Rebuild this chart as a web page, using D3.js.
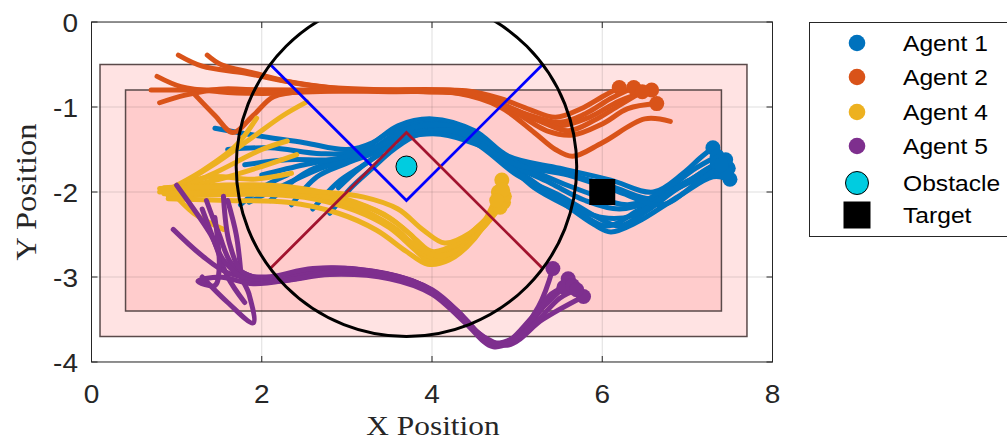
<!DOCTYPE html>
<html>
<head>
<meta charset="utf-8">
<script src="https://cdn.jsdelivr.net/npm/d3@7"></script>
<style>
  body { margin: 0; background: #fff; }
  svg { display: block; }
</style>
</head>
<body>
<svg width="1007" height="443"></svg>
<script>
// axis ticks
var xTicks = [0, 2, 4, 6, 8];
var yTicks = [0, -1, -2, -3, -4];

// regions [x0, x1, y0, y1]
var outerRegion = [0.1, 7.7, -3.7, -0.5];
var innerRegion = [0.4, 7.4, -3.4, -0.8];

// obstacle, its influence circle and the guide lines
var obstacle = [3.7, -1.7];
var influenceRadius = 2;
var target = [6, -2];
var blueVee = [[2.1, -0.5], [3.7, -2.1], [5.3, -0.5]];
var redVee = [[2.1, -2.9], [3.7, -1.3], [5.3, -2.9]];

// trajectories, several runs per agent (these end with a dot)
var agent1Paths = [
  [[1.45,-1.25],[1.9,-1.33],[2.5,-1.42],[3.0,-1.5],[3.3,-1.42],[3.6,-1.22],[4.0,-1.14],[4.5,-1.28],[4.9,-1.58],[5.5,-1.72],[6.1,-1.86],[6.6,-2.0],[6.95,-1.78],[7.15,-1.6],[7.3,-1.48]],
  [[1.6,-1.5],[2.1,-1.48],[2.7,-1.55],[3.15,-1.52],[3.5,-1.3],[3.95,-1.18],[4.5,-1.32],[4.9,-1.62],[5.5,-1.76],[6.1,-1.93],[6.6,-2.08],[7.0,-1.88],[7.3,-1.7],[7.48,-1.72]],
  [[2.1,-2.1],[2.5,-1.78],[2.9,-1.62],[3.3,-1.5],[3.6,-1.3],[4.0,-1.22],[4.5,-1.38],[5.0,-1.74],[5.5,-2.1],[5.9,-2.38],[6.1,-2.47],[6.4,-2.36],[6.9,-2.05],[7.3,-1.82],[7.5,-1.85]],
  [[2.35,-2.15],[2.65,-1.82],[3.0,-1.66],[3.35,-1.52],[3.62,-1.33],[4.0,-1.26],[4.5,-1.42],[5.0,-1.8],[5.5,-2.04],[6.0,-2.33],[6.2,-2.4],[6.5,-2.24],[6.9,-1.95],[7.3,-1.72],[7.45,-1.62]],
  [[2.6,-2.2],[2.9,-1.88],[3.2,-1.68],[3.5,-1.46],[3.8,-1.3],[4.3,-1.31],[4.7,-1.5],[5.2,-1.95],[5.7,-2.22],[6.05,-2.4],[6.45,-2.2],[7.0,-1.9],[7.4,-1.75]],
  [[1.8,-1.68],[2.3,-1.62],[2.8,-1.62],[3.2,-1.56],[3.5,-1.36],[3.9,-1.2],[4.4,-1.28],[4.8,-1.55],[5.3,-1.8],[5.8,-2.0],[6.3,-2.15],[6.7,-2.0],[7.1,-1.72],[7.35,-1.58]],
  [[1.85,-2.12],[2.3,-1.9],[2.7,-1.72],[3.1,-1.6],[3.45,-1.42],[3.75,-1.25],[4.2,-1.22],[4.6,-1.4],[5.0,-1.7],[5.4,-1.9],[5.8,-2.1],[6.2,-2.2],[6.6,-2.1],[7.05,-1.85],[7.45,-1.78]],
  [[2.8,-2.25],[3.05,-1.95],[3.3,-1.72],[3.55,-1.5],[3.85,-1.32],[4.25,-1.28],[4.65,-1.48],[5.1,-1.85],[5.6,-2.15],[6.0,-2.3],[6.35,-2.28],[6.8,-2.0],[7.2,-1.75],[7.35,-1.65]],
  [[2.0,-1.8],[2.5,-1.68],[3.0,-1.58],[3.4,-1.45],[3.7,-1.35],[4.1,-1.32],[4.55,-1.45],[5.0,-1.68],[5.6,-1.8],[6.2,-2.0],[6.7,-2.15],[7.1,-1.9],[7.4,-1.68]]
];
var agent2Paths = [
  [[0.7,-0.8],[1.2,-0.8],[1.8,-0.8],[2.5,-0.8],[3.2,-0.8],[3.9,-0.8],[4.4,-0.81],[4.8,-0.9],[5.15,-1.03],[5.45,-1.12],[5.75,-1.02],[6.0,-0.88],[6.2,-0.77]],
  [[1.02,-0.39],[1.3,-0.52],[1.8,-0.6],[2.3,-0.7],[2.8,-0.77],[3.5,-0.8],[4.2,-0.82],[4.7,-0.92],[5.1,-1.08],[5.5,-1.18],[5.8,-1.08],[6.1,-0.9],[6.37,-0.77]],
  [[1.36,-0.39],[1.52,-0.5],[1.9,-0.6],[2.4,-0.72],[3.0,-0.79],[3.6,-0.81],[4.3,-0.83],[4.8,-0.97],[5.2,-1.14],[5.5,-1.22],[5.85,-1.12],[6.2,-0.93],[6.58,-0.8]],
  [[0.77,-0.64],[1.05,-0.76],[1.5,-0.82],[2.0,-0.84],[2.6,-0.82],[3.2,-0.81],[3.9,-0.82],[4.5,-0.86],[5.0,-1.08],[5.35,-1.28],[5.65,-1.33],[6.0,-1.2],[6.3,-1.02],[6.64,-0.96]],
  [[1.2,-0.84],[1.45,-1.1],[1.66,-1.3],[1.9,-1.1],[2.14,-0.88],[2.6,-0.81],[3.4,-0.8],[4.4,-0.82],[4.9,-1.0],[5.3,-1.18],[5.6,-1.28],[5.9,-1.16],[6.2,-0.98],[6.47,-0.82]]
];
var agent4Paths = [
  [[0.8,-2.0],[1.4,-1.97],[2.0,-1.97],[2.5,-2.0],[3.0,-2.1],[3.4,-2.25],[3.75,-2.5],[3.95,-2.72],[4.2,-2.68],[4.5,-2.45],[4.72,-2.2],[4.82,-1.86]],
  [[0.85,-1.95],[1.5,-1.92],[2.1,-1.92],[2.6,-1.98],[3.1,-2.12],[3.5,-2.3],[3.8,-2.55],[4.0,-2.7],[4.3,-2.6],[4.6,-2.35],[4.84,-2.12]],
  [[0.9,-2.05],[1.5,-2.03],[2.1,-2.03],[2.6,-2.08],[3.1,-2.22],[3.5,-2.42],[3.8,-2.68],[3.95,-2.8],[4.25,-2.72],[4.55,-2.45],[4.78,-2.0]],
  [[0.95,-2.0],[1.6,-2.0],[2.2,-2.0],[2.7,-2.05],[3.2,-2.22],[3.6,-2.45],[3.85,-2.7],[4.1,-2.78],[4.4,-2.6],[4.7,-2.3],[4.85,-2.05]],
  [[0.8,-1.96],[1.4,-1.94],[2.0,-1.94],[2.55,-2.0],[3.05,-2.15],[3.45,-2.36],[3.8,-2.62],[4.05,-2.75],[4.35,-2.66],[4.62,-2.4],[4.8,-2.18]],
  [[0.85,-2.02],[1.5,-2.0],[2.1,-1.98],[2.7,-2.0],[3.2,-2.06],[3.6,-2.2],[3.9,-2.45],[4.15,-2.6],[4.45,-2.48],[4.7,-2.25],[4.83,-1.98]],
  [[0.9,-2.08],[1.6,-2.1],[2.3,-2.12],[2.9,-2.25],[3.35,-2.45],[3.7,-2.7],[3.95,-2.85],[4.2,-2.8],[4.5,-2.55],[4.76,-2.1]]
];
var agent5Paths = [
  [[0.96,-2.44],[1.3,-2.75],[1.6,-2.95],[2.1,-3.03],[2.7,-2.9],[3.4,-2.95],[3.9,-3.1],[4.3,-3.4],[4.65,-3.76],[4.95,-3.72],[5.25,-3.35],[5.42,-2.9]],
  [[1.35,-2.1],[1.5,-2.5],[1.65,-2.85],[1.9,-3.0],[2.3,-3.0],[2.8,-2.93],[3.5,-2.98],[4.0,-3.15],[4.4,-3.5],[4.7,-3.8],[5.0,-3.7],[5.35,-3.3],[5.6,-3.02]],
  [[1.3,-3.0],[1.6,-3.3],[1.9,-3.54],[1.85,-3.2],[1.75,-2.95],[2.05,-3.06],[2.5,-2.97],[3.1,-2.95],[3.7,-3.05],[4.2,-3.32],[4.6,-3.7],[4.9,-3.8],[5.3,-3.5],[5.78,-3.23]],
  [[1.55,-2.05],[1.62,-2.6],[1.78,-2.95],[2.05,-3.0],[2.6,-2.9],[3.3,-2.93],[3.85,-3.08],[4.25,-3.36],[4.6,-3.72],[4.85,-3.78],[5.2,-3.45],[5.55,-3.12]],
  [[1.0,-1.92],[1.2,-2.2],[1.4,-2.5],[1.55,-2.8],[1.8,-3.02],[2.2,-3.05],[2.8,-2.97],[3.5,-3.02],[4.0,-3.2],[4.4,-3.55],[4.72,-3.82],[5.05,-3.68],[5.4,-3.2],[5.65,-3.1]],
  [[1.45,-2.3],[1.5,-2.9],[1.45,-3.1],[1.25,-3.05],[1.5,-3.0],[1.9,-3.08],[2.4,-3.02],[3.0,-2.92],[3.6,-3.0],[4.1,-3.25],[4.5,-3.62],[4.8,-3.8],[5.15,-3.6],[5.5,-3.25],[5.7,-3.15]]
];

// partial strokes without an end dot
var agent1Stubs = [
  [[1.75,-2.15],[2.0,-1.95],[2.3,-1.8]],
  [[2.9,-1.95],[3.15,-1.72],[3.4,-1.55]]
];
var agent2Stubs = [
  [[0.8,-0.95],[1.1,-0.86],[1.5,-0.79],[2.0,-0.8],[2.7,-0.81],[3.5,-0.82],[4.3,-0.84],[4.8,-1.0],[5.2,-1.3],[5.45,-1.5],[5.65,-1.58],[6.0,-1.42],[6.5,-1.14],[6.8,-1.17]]
];
var agent4Stubs = [
  [[0.9,-2.0],[1.4,-1.7],[1.9,-1.35],[2.25,-1.1],[2.53,-0.94]],
  [[0.85,-2.0],[1.3,-1.75],[1.7,-1.45],[1.94,-1.13]],
  [[0.9,-1.98],[1.5,-1.85],[2.0,-1.7],[2.41,-1.56]],
  [[0.92,-1.97],[1.2,-2.25],[1.55,-2.44]],
  [[0.95,-1.95],[1.4,-1.82],[1.9,-1.85],[2.35,-1.78]],
  [[0.95,-2.0],[1.5,-1.75],[2.0,-1.5],[2.3,-1.4]]
];
var agent5Stubs = [
  [[1.6,-2.1],[1.7,-2.5],[1.75,-2.9]],
  [[1.3,-2.2],[1.45,-2.6],[1.6,-3.0],[1.8,-3.3]]
];

var agentNames = ["Agent 1", "Agent 2", "Agent 4", "Agent 5"];
var agentColors = ["#0072BD", "#D95319", "#EDB120", "#7E2F8E"];
var agentPaths = [agent1Paths, agent2Paths, agent4Paths, agent5Paths];
var agentStubs = [agent1Stubs, agent2Stubs, agent4Stubs, agent5Stubs];

var svg = d3.select("svg");
var plot = {left: 91.5, right: 772.5, top: 22, bottom: 362};

var x = d3.scaleLinear().domain([0, 8]).range([plot.left, plot.right]);
var y = d3.scaleLinear().domain([-4, 0]).range([plot.bottom, plot.top]);

// text looks a bit stretched sideways in the original
function label(g, px, py, str, anchor, size, family, color) {
  return g.append("text")
    .attr("transform", "translate(" + px + "," + py + ") scale(1.12,1)")
    .attr("text-anchor", anchor)
    .style("font-family", family)
    .style("font-size", size + "px")
    .attr("fill", color || "#262626")
    .text(str);
}

svg.append("clipPath").attr("id", "clip")
  .append("rect")
  .attr("x", plot.left).attr("y", plot.top)
  .attr("width", plot.right - plot.left).attr("height", plot.bottom - plot.top);

var g = svg.append("g").attr("clip-path", "url(#clip)");

// pink regions
[[outerRegion, "#FFE3E3"], [innerRegion, "#FFCCCC"]].forEach(function(r) {
  var b = r[0];
  g.append("rect")
    .attr("x", x(b[0])).attr("y", y(b[3]))
    .attr("width", x(b[1]) - x(b[0])).attr("height", y(b[2]) - y(b[3]))
    .attr("fill", r[1])
    .attr("stroke", "#5a4a4a").attr("stroke-width", 1.5);
});

// grid
g.selectAll(".gx").data(xTicks).enter().append("line")
  .attr("x1", d => x(d)).attr("x2", d => x(d))
  .attr("y1", plot.top).attr("y2", plot.bottom)
  .attr("stroke", "#262626").attr("stroke-opacity", 0.15);
g.selectAll(".gy").data(yTicks).enter().append("line")
  .attr("y1", d => y(d)).attr("y2", d => y(d))
  .attr("x1", plot.left).attr("x2", plot.right)
  .attr("stroke", "#262626").attr("stroke-opacity", 0.15);

var line = d3.line().x(d => x(d[0])).y(d => y(d[1])).curve(d3.curveCatmullRom);

function drawPaths(paths, color, cls) {
  g.selectAll("." + cls).data(paths).enter().append("path")
    .attr("class", cls)
    .attr("d", line)
    .attr("fill", "none")
    .attr("stroke", color)
    .attr("stroke-width", 5)
    .attr("stroke-linecap", "round")
    .attr("stroke-linejoin", "round");
}

agentPaths.forEach(function(paths, i) {
  drawPaths(agentStubs[i], agentColors[i], "s" + i);
  drawPaths(paths, agentColors[i], "a" + i);
  g.selectAll(".e" + i).data(paths).enter().append("circle")
    .attr("class", "e" + i)
    .attr("cx", d => x(d[d.length - 1][0]))
    .attr("cy", d => y(d[d.length - 1][1]))
    .attr("r", 7.5)
    .attr("fill", agentColors[i]);
});

var straight = d3.line().x(d => x(d[0])).y(d => y(d[1]));
g.append("path").attr("d", straight(blueVee))
  .attr("fill", "none").attr("stroke", "#0000FF").attr("stroke-width", 2.8);
g.append("path").attr("d", straight(redVee))
  .attr("fill", "none").attr("stroke", "#A2142F").attr("stroke-width", 2.8);

g.append("ellipse")
  .attr("cx", x(obstacle[0])).attr("cy", y(obstacle[1]))
  .attr("rx", x(obstacle[0] + influenceRadius) - x(obstacle[0]))
  .attr("ry", y(obstacle[1] - influenceRadius) - y(obstacle[1]))
  .attr("fill", "none").attr("stroke", "#000").attr("stroke-width", 3);

g.append("circle")
  .attr("cx", x(obstacle[0])).attr("cy", y(obstacle[1])).attr("r", 10.5)
  .attr("fill", "#00CCE0").attr("stroke", "#000").attr("stroke-width", 1);

g.append("rect")
  .attr("x", x(target[0]) - 13).attr("y", y(target[1]) - 13)
  .attr("width", 26).attr("height", 26).attr("fill", "#000");

// axes box and ticks
var axisColor = "#262626";
svg.append("rect")
  .attr("x", plot.left).attr("y", plot.top)
  .attr("width", plot.right - plot.left).attr("height", plot.bottom - plot.top)
  .attr("fill", "none").attr("stroke", axisColor).attr("stroke-width", 1);

var tickLen = 6;
xTicks.forEach(function(t) {
  svg.append("line").attr("x1", x(t)).attr("x2", x(t))
    .attr("y1", plot.bottom).attr("y2", plot.bottom - tickLen).attr("stroke", axisColor);
  svg.append("line").attr("x1", x(t)).attr("x2", x(t))
    .attr("y1", plot.top).attr("y2", plot.top + tickLen).attr("stroke", axisColor);
  label(svg, x(t), 403, t, "middle", 25, "Liberation Sans, Arial, sans-serif");
});
yTicks.forEach(function(t) {
  svg.append("line").attr("y1", y(t)).attr("y2", y(t))
    .attr("x1", plot.left).attr("x2", plot.left + tickLen).attr("stroke", axisColor);
  svg.append("line").attr("y1", y(t)).attr("y2", y(t))
    .attr("x1", plot.right).attr("x2", plot.right - tickLen).attr("stroke", axisColor);
  label(svg, 78, y(t) + 10, t, "end", 25, "Liberation Sans, Arial, sans-serif");
});

label(svg, 433, 435, "X Position", "middle", 28, "Liberation Serif, serif");
svg.append("text")
  .attr("transform", "translate(36," + ((plot.top + plot.bottom) / 2) + ") rotate(-90) scale(1.12,1)")
  .attr("text-anchor", "middle")
  .style("font-family", "Liberation Serif, serif")
  .style("font-size", "29px")
  .attr("fill", "#262626")
  .text("Y Position");

// legend
var legend = svg.append("g");
legend.append("rect")
  .attr("x", 809.5).attr("y", 22.5).attr("width", 230).attr("height", 214)
  .attr("fill", "#fff").attr("stroke", axisColor).attr("stroke-width", 1);
var rowY = [43, 77, 112, 146, 183, 215];
agentNames.forEach(function(name, i) {
  legend.append("circle").attr("cx", 857).attr("cy", rowY[i]).attr("r", 8.3)
    .attr("fill", agentColors[i]);
  label(legend, 903, rowY[i] + 8, name, "start", 22, "Liberation Sans, Arial, sans-serif", "#000");
});
legend.append("circle").attr("cx", 857).attr("cy", rowY[4]).attr("r", 11.5)
  .attr("fill", "#00CCE0").attr("stroke", "#000").attr("stroke-width", 1);
label(legend, 903, rowY[4] + 8, "Obstacle", "start", 22, "Liberation Sans, Arial, sans-serif", "#000");
legend.append("rect").attr("x", 857 - 13.5).attr("y", rowY[5] - 13.5)
  .attr("width", 27).attr("height", 27).attr("fill", "#000");
label(legend, 903, rowY[5] + 8, "Target", "start", 22, "Liberation Sans, Arial, sans-serif", "#000");
</script>
</body>
</html>
